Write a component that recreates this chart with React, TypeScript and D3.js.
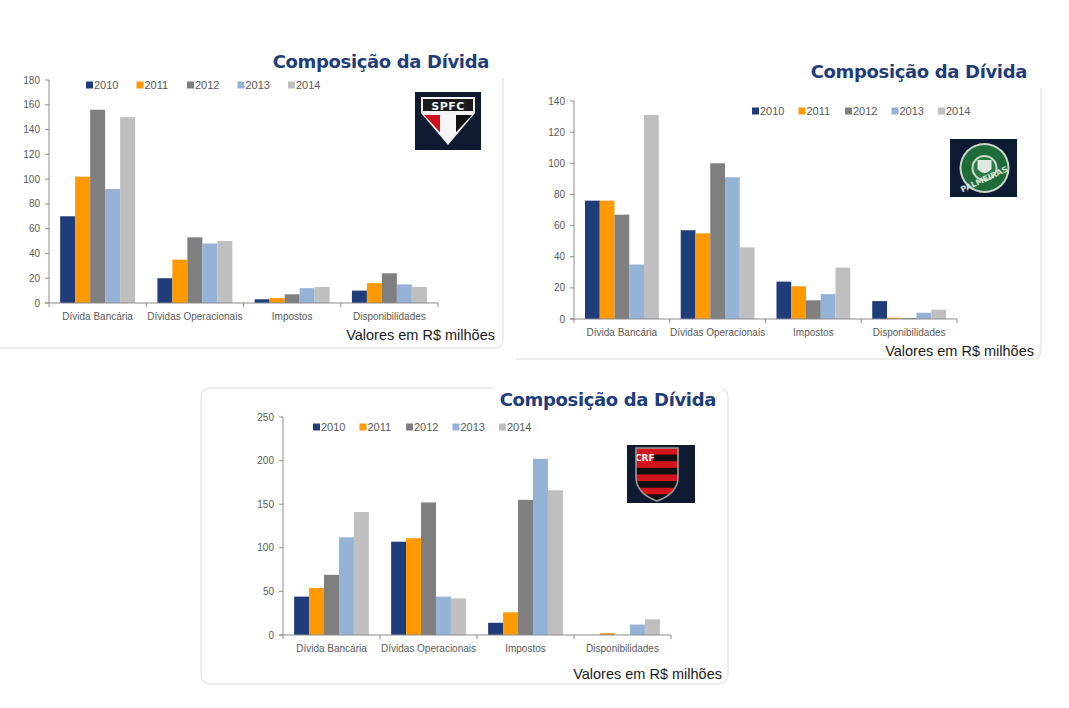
import React from "react";
import * as d3 from "d3";

// ---------- DATA ----------
const categories = ["Dívida Bancária", "Dívidas Operacionais", "Impostos", "Disponibilidades"];
const years = ["2010", "2011", "2012", "2013", "2014"];
const seriesColors = ["#1f3d7a", "#ff9900", "#7f7f7f", "#95b3d7", "#bfbfbf"];

// values per year (rows) for each category (columns)
const spfcValues = [
  [70, 20, 3, 10],
  [102, 35, 4, 16],
  [156, 53, 7, 24],
  [92, 48, 12, 15],
  [150, 50, 13, 13],
];
const palmeirasValues = [
  [76, 57, 24, 11.5],
  [76, 55, 21, 0.8],
  [67, 100, 12, 0.6],
  [35, 91, 16, 4],
  [131, 46, 33, 6],
];
const flamengoValues = [
  [44, 107, 14, 0],
  [54, 111, 26, 2],
  [69, 152, 155, 0],
  [112, 44, 202, 12],
  [141, 42, 166, 18],
];

const titleText = "Composição da Dívida";
const unitText = "Valores em R$ milhões";

// ---------- LAYOUT ----------
type Layout = {
  values: number[][];
  max: number;
  step: number;
  axisX: number;
  axisEnd: number;
  y0: number;
  yTop: number;
  legendX: number;
  legendStep: number;
  legendY: number;
  titleRight: number;
  titleY: number;
  unitRight: number;
  unitY: number;
  catLabelY: number;
  panel: { x: number; y: number; w: number; h: number; full: boolean };
  logo: { x: number; y: number; w: number; h: number; kind: string };
};

const charts: Layout[] = [
  {
    values: spfcValues, max: 180, step: 20,
    axisX: 49, axisEnd: 438, y0: 303, yTop: 80,
    legendX: 86, legendStep: 50.5, legendY: 85,
    titleRight: 489, titleY: 68,
    unitRight: 495, unitY: 340, catLabelY: 320,
    panel: { x: -4, y: 78, w: 507, h: 270, full: false },
    logo: { x: 415, y: 92, w: 66, h: 58, kind: "spfc" },
  },
  {
    values: palmeirasValues, max: 140, step: 20,
    axisX: 574, axisEnd: 957, y0: 319, yTop: 101,
    legendX: 752, legendStep: 46.5, legendY: 111,
    titleRight: 1027, titleY: 78,
    unitRight: 1034, unitY: 356, catLabelY: 336,
    panel: { x: 516, y: 88, w: 525, h: 271, full: false },
    logo: { x: 950, y: 139, w: 67, h: 58, kind: "palmeiras" },
  },
  {
    values: flamengoValues, max: 250, step: 50,
    axisX: 283, axisEnd: 671, y0: 635, yTop: 417,
    legendX: 313, legendStep: 46.5, legendY: 427,
    titleRight: 716, titleY: 406,
    unitRight: 722, unitY: 679, catLabelY: 652,
    panel: { x: 201, y: 388, w: 527, h: 296, full: true },
    logo: { x: 627, y: 445, w: 68, h: 58, kind: "flamengo" },
  },
];

const AXIS = "#8c8c8c";
const TEXT = "#595959";
const FONT = "'Liberation Sans', Arial, sans-serif";
const BORDER = "#e8e8e8";

function Logo({ x, y, w, h, kind }: { x: number; y: number; w: number; h: number; kind: string }) {
  if (kind === "spfc") {
    const cx = x + w / 2;
    return (
      <g>
        <rect x={x} y={y} width={w} height={h} fill="#0e1a30" />
        <rect x={x + 6} y={y + 5} width={w - 12} height={16} fill="#f2f2f2" />
        <rect x={x + 8} y={y + 7} width={w - 16} height={12} fill="#1a1a1a" />
        <text x={cx} y={y + 17.5} textAnchor="middle" fontFamily="'DejaVu Sans', sans-serif" fontWeight="bold" fontSize={11} fill="#f2f2f2" letterSpacing={0.5}>SPFC</text>
        <polygon points={`${x + 6},${y + 21} ${x + w - 6},${y + 21} ${cx},${y + 53}`} fill="#f2f2f2" />
        <clipPath id="spfcTri">
          <polygon points={`${x + 9},${y + 23} ${x + w - 9},${y + 23} ${cx},${y + 49}`} />
        </clipPath>
        <g clipPath="url(#spfcTri)">
          <rect x={x + 9} y={y + 23} width={(w - 18) / 3} height={30} fill="#d0111b" />
          <rect x={x + 9 + (w - 18) / 3} y={y + 23} width={(w - 18) / 3} height={30} fill="#f5f5f5" />
          <rect x={x + 9 + (2 * (w - 18)) / 3} y={y + 23} width={(w - 18) / 3} height={30} fill="#111" />
        </g>
      </g>
    );
  }
  if (kind === "palmeiras") {
    const cx = x + w / 2 + 1;
    const cy = y + h / 2;
    return (
      <g>
        <rect x={x} y={y} width={w} height={h} fill="#0d1a33" />
        <circle cx={cx} cy={cy} r={25} fill="#c9d8c9" />
        <circle cx={cx} cy={cy} r={23} fill="#1f6b3a" />
        <circle cx={cx} cy={cy} r={13} fill="#c9d8c9" />
        <circle cx={cx} cy={cy} r={11} fill="#2d7a45" />
        <path d={`M${cx - 7},${cy - 8} L${cx + 7},${cy - 8} L${cx + 7},${cy + 1} Q${cx},${cy + 9} ${cx - 7},${cy + 1} Z`} fill="#dfe8df" />
        <text x={cx} y={cy + 14} textAnchor="middle" fontFamily="'DejaVu Sans', sans-serif" fontWeight="bold" fontSize={8} fill="#d8e4d8" transform={`rotate(-25 ${cx} ${cy + 12})`}>PALMEIRAS</text>
      </g>
    );
  }
  const sx = x + 9;
  const sy = y + 3;
  const sw = 42;
  const sh = 53;
  const shield = `M${sx},${sy} L${sx + sw},${sy} L${sx + sw},${sy + sh * 0.55} Q${sx + sw},${sy + sh * 0.85} ${sx + sw / 2},${sy + sh} Q${sx},${sy + sh * 0.85} ${sx},${sy + sh * 0.55} Z`;
  const stripes = d3.range(8);
  return (
    <g>
      <rect x={x} y={y} width={w} height={h} fill="#0e1a30" />
      <clipPath id="flaShield">
        <path d={shield} />
      </clipPath>
      <g clipPath="url(#flaShield)">
        {stripes.map((i) => (
          <rect key={i} x={sx} y={sy + (i * sh) / 8} width={sw} height={sh / 8 + 0.5} fill={i % 2 === 0 ? "#d4141c" : "#111"} />
        ))}
        <rect x={sx} y={sy} width={sw * 0.42} height={sh * 0.32} fill="#d4141c" />
        <text x={sx + sw * 0.21} y={sy + sh * 0.25} textAnchor="middle" fontFamily="'DejaVu Sans', sans-serif" fontWeight="bold" fontSize={9} fill="#f2f2f2">CRF</text>
      </g>
      <path d={shield} fill="none" stroke="#9a9a9a" strokeWidth={1.6} />
    </g>
  );
}

function Panel({ x, y, w, h, full }: { x: number; y: number; w: number; h: number; full: boolean }) {
  const r = 9;
  if (full) {
    return <rect x={x} y={y} width={w} height={h} rx={r} fill="#ffffff" stroke={BORDER} strokeWidth={1.5} />;
  }
  const d = `M${x + w},${y} L${x + w},${y + h - r} Q${x + w},${y + h} ${x + w - r},${y + h} L${x},${y + h}`;
  return (
    <g>
      <rect x={x} y={y} width={w} height={h} fill="#ffffff" />
      <path d={d} fill="none" stroke={BORDER} strokeWidth={1.5} />
    </g>
  );
}

function Chart({ c }: { c: Layout }) {
  const y = d3.scaleLinear().domain([0, c.max]).range([c.y0, c.yTop]);
  const x = d3.scaleBand<string>().domain(categories).range([c.axisX, c.axisEnd]).paddingInner(0).paddingOuter(0);
  const inner = d3.scaleBand<string>().domain(years).range([0, x.bandwidth()]).paddingInner(0).paddingOuter(0.745);
  const ticks = d3.range(0, c.max + c.step / 2, c.step);
  const boundaries = categories.map((cat) => x(cat)!).concat([c.axisEnd]);
  return (
    <g>
      <Panel {...c.panel} />
      <rect x={c.titleRight - 222} y={c.titleY - 19} width={228} height={25} fill="#ffffff" />
      <text x={c.titleRight} y={c.titleY} textAnchor="end" fontFamily="'DejaVu Sans', Verdana, sans-serif" fontWeight="bold" fontSize={18} letterSpacing={-0.35} fill="#1f3d7a">{titleText}</text>

      {years.map((yr, si) => (
        <g key={yr} fill={seriesColors[si]}>
          {categories.map((cat, ci) => {
            const v = c.values[si][ci];
            return (
              <rect key={cat} x={x(cat)! + inner(yr)!} y={y(v)} width={inner.bandwidth()} height={c.y0 - y(v)} />
            );
          })}
        </g>
      ))}

      <line x1={c.axisX} x2={c.axisX} y1={c.yTop} y2={c.y0} stroke={AXIS} strokeWidth={1} />
      {ticks.map((t) => (
        <g key={t}>
          <line x1={c.axisX - 4} x2={c.axisX} y1={y(t)} y2={y(t)} stroke={AXIS} />
          <text x={c.axisX - 9} y={y(t)} dy="0.35em" textAnchor="end" fontFamily={FONT} fontSize={10} fill={TEXT}>{t}</text>
        </g>
      ))}
      <line x1={c.axisX - 4} x2={c.axisEnd} y1={c.y0} y2={c.y0} stroke={AXIS} strokeWidth={1} />
      {boundaries.map((b, i) => (
        <line key={i} x1={b} x2={b} y1={c.y0} y2={c.y0 + 4} stroke={AXIS} />
      ))}
      {categories.map((cat) => (
        <text key={cat} x={x(cat)! + x.bandwidth() / 2} y={c.catLabelY} textAnchor="middle" fontFamily={FONT} fontSize={10} fill={TEXT}>{cat}</text>
      ))}

      {years.map((yr, si) => {
        const lx = c.legendX + si * c.legendStep;
        return (
          <g key={yr}>
            <rect x={lx} y={c.legendY - 3.5} width={7} height={7} fill={seriesColors[si]} />
            <text x={lx + 8} y={c.legendY} dy="0.36em" fontFamily={FONT} fontSize={11} fill={TEXT}>{yr}</text>
          </g>
        );
      })}

      <Logo {...c.logo} />

      <text x={c.unitRight} y={c.unitY} textAnchor="end" fontFamily={FONT} fontSize={14.5} fill="#1a1a1a">{unitText}</text>
    </g>
  );
}

export default function App() {
  return (
    <svg width={1069} height={708} viewBox="0 0 1069 708" style={{ position: "absolute", left: 0, top: 0, background: "#ffffff" }}>
      <rect x={0} y={0} width={1069} height={708} fill="#ffffff" />
      {charts.map((c, i) => (
        <Chart key={i} c={c} />
      ))}
    </svg>
  );
}
